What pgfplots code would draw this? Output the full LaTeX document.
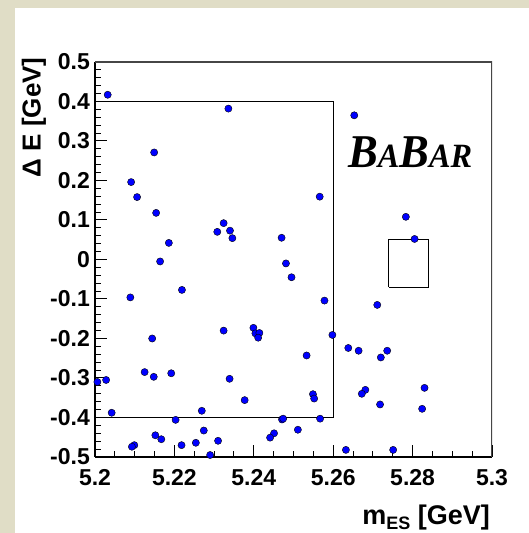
\documentclass[border=0pt]{standalone}
\usepackage{fontspec}
\setmainfont{Liberation Sans}
\newfontfamily\babarfont{Liberation Serif}
\usepackage{pgfplots}
\pgfplotsset{compat=1.18}
\definecolor{bgbeige}{RGB}{224,221,198}
\definecolor{ptblue}{RGB}{0,0,255}
\definecolor{framegray}{RGB}{70,70,70}
\begin{document}
\begin{tikzpicture}[x=1bp,y=1bp]
\useasboundingbox (0,0) rectangle (529,533);
\fill[bgbeige] (0,0) rectangle (529,533);
\fill[white] (15,0) rectangle (529,525);
\begin{axis}[
  at={(95bp,76bp)}, anchor=south west,
  scale only axis, width=397bp, height=395bp,
  xmin=5.2, xmax=5.3, ymin=-0.5, ymax=0.5,
  axis x line*=bottom, axis y line*=left,
  axis line style={black, line width=1.6bp, -},
  xtick={5.2,5.22,5.24,5.26,5.28,5.3},
  xticklabels={5.2,5.22,5.24,5.26,5.28,5.3},
  ytick={-0.5,-0.4,-0.3,-0.2,-0.1,0,0.1,0.2,0.3,0.4,0.5},
  yticklabels={-0.5,-0.4,-0.3,-0.2,-0.1,0,0.1,0.2,0.3,0.4,0.5},
  minor x tick num=3, minor y tick num=4,
  tick align=inside,
  major tick length=12bp, minor tick length=6bp,
  tick style={black, line width=1bp},
  tick label style={font=\fontsize{23bp}{25bp}\selectfont\bfseries},
  yticklabel style={anchor=east, inner sep=0pt, xshift=-5bp},
  xticklabel style={anchor=north, inner sep=0pt, yshift=-12bp},
  xlabel={m\raisebox{-5bp}{\fontsize{18bp}{18bp}\selectfont ES} [GeV]},
  ylabel={Δ E [GeV]},
  xlabel style={at={(axis description cs:0.995,-0.170)}, anchor=base east, inner sep=0pt, font=\fontsize{27bp}{30bp}\selectfont\bfseries},
  ylabel style={at={(axis description cs:-0.123,1.012)}, anchor=south east, inner sep=0pt, font=\fontsize{26bp}{28bp}\selectfont\bfseries},
]
\addplot[black, line width=1bp, mark=none] coordinates {(5.2,0.4) (5.26,0.4) (5.26,-0.4) (5.2,-0.4)};
\addplot[black, line width=1bp, mark=none] coordinates {(5.274,-0.07) (5.284,-0.07) (5.284,0.05) (5.274,0.05) (5.274,-0.07)};
\addplot[only marks, mark=*, mark size=3.6bp, mark options={draw=none, fill=ptblue}] coordinates {
(5.2032,0.417) (5.2336,0.382) (5.2149,0.271) (5.2091,0.196) (5.2106,0.158)
(5.2154,0.118) (5.2324,0.092) (5.2308,0.070) (5.2340,0.073) (5.2346,0.054)
(5.2186,0.042) (5.2164,-0.005) (5.2089,-0.096) (5.2219,-0.077) (5.2144,-0.200)
(5.2324,-0.180) (5.2399,-0.173) (5.2404,-0.187) (5.2414,-0.186) (5.2411,-0.198)
(5.2125,-0.285) (5.2192,-0.288) (5.2148,-0.297) (5.2028,-0.305) (5.2006,-0.310)
(5.2339,-0.302) (5.2377,-0.356) (5.2042,-0.388) (5.2269,-0.383) (5.2203,-0.406)
(5.2274,-0.433) (5.2152,-0.445) (5.2167,-0.455) (5.2310,-0.459) (5.2254,-0.464)
(5.2218,-0.470) (5.2099,-0.470) (5.2093,-0.474) (5.2290,-0.495)
(5.2653,0.365) (5.2566,0.159) (5.2783,0.108) (5.2805,0.052) (5.2470,0.055)
(5.2481,-0.010) (5.2495,-0.045) (5.2578,-0.104) (5.2598,-0.191) (5.2711,-0.115)
(5.2638,-0.224) (5.2664,-0.231) (5.2736,-0.231) (5.2720,-0.248) (5.2533,-0.243)
(5.2830,-0.325) (5.2681,-0.330) (5.2672,-0.340) (5.2549,-0.341) (5.2552,-0.352)
(5.2718,-0.367) (5.2824,-0.378) (5.2471,-0.405) (5.2474,-0.403) (5.2567,-0.403)
(5.2511,-0.431) (5.2451,-0.440) (5.2441,-0.451) (5.2632,-0.482) (5.2751,-0.482)
};
\draw[framegray, line width=1.2bp] (rel axis cs:0,1) -- (rel axis cs:1,1) -- (rel axis cs:1,0);
\node[anchor=base west, inner sep=0pt] at (axis cs:5.2637,0.234)
  {\scalebox{0.95}[1]{\babarfont\bfseries\itshape\fontsize{47bp}{47bp}\selectfont B\fontsize{34bp}{34bp}\selectfont A\fontsize{47bp}{47bp}\selectfont B\fontsize{34bp}{34bp}\selectfont AR}};
\end{axis}
\end{tikzpicture}
\end{document}
